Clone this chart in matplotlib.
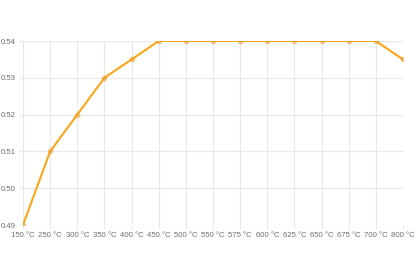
import numpy as np
import matplotlib.pyplot as plt

# temperature categories and measured values
temps = ['150 °C', '250 °C', '300 °C', '350 °C', '400 °C', '450 °C', '500 °C',
         '550 °C', '575 °C', '600 °C', '625 °C', '650 °C', '675 °C', '700 °C', '800 °C']
values = [0.49, 0.51, 0.52, 0.53, 0.535, 0.54, 0.54,
          0.54, 0.54, 0.54, 0.54, 0.54, 0.54, 0.54, 0.535]
y_ticks = [0.49, 0.50, 0.51, 0.52, 0.53, 0.54]

W, H = 416, 277
fig = plt.figure(figsize=(W / 100, H / 100), dpi=100)
ax = fig.add_axes([23 / W, 1 - 225 / H, (403 - 23) / W, (225 - 41) / H])

x = np.arange(len(temps))
line_color = '#ffa51a'
ax.plot(x, values, color=line_color, linewidth=1.5, zorder=3)
ax.scatter(x, values, s=16, color='#e89a20', alpha=0.55, zorder=4, linewidths=0)

ax.set_xlim(0, len(temps) - 1)
ax.set_ylim(0.49, 0.54)
ax.set_xticks(x)
ax.set_xticklabels(temps)
ax.set_yticks(y_ticks)
ax.set_yticklabels([f'{v:.2f}' for v in y_ticks])

grid_c = '#e8e8e8'
ax.grid(True, color=grid_c, linewidth=0.8)
ax.set_axisbelow(True)
for s in ax.spines.values():
    s.set_visible(False)
ax.tick_params(axis='both', colors=grid_c, length=3, width=0.8,
               labelcolor='#6e6e6e', labelsize=5.6, pad=2)
for lab in ax.get_xticklabels() + ax.get_yticklabels():
    lab.set_fontfamily('Liberation Sans')

fig.savefig('out.png', dpi=100)
